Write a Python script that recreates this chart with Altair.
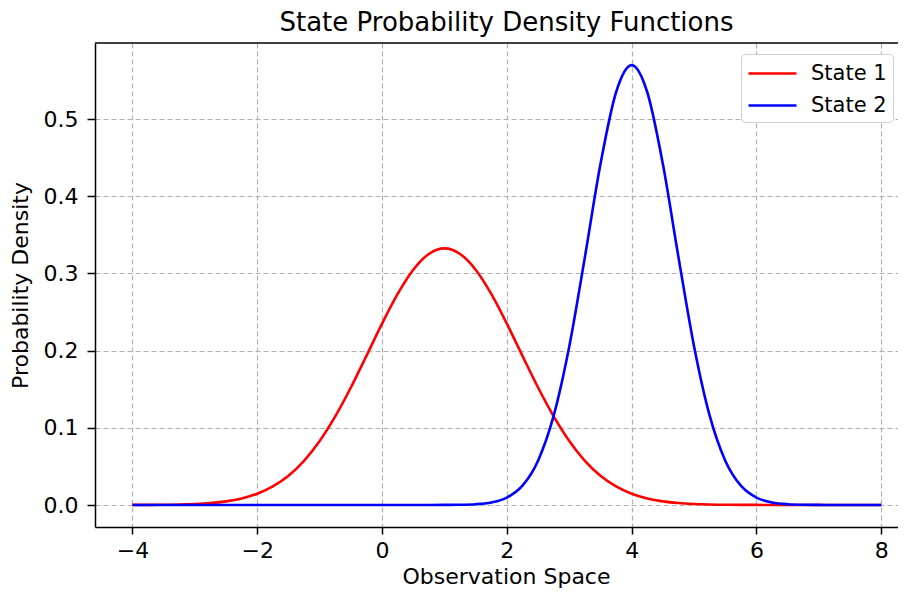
import altair as alt
import pandas as pd

# x positions (observation space) at which the curves were read
x_vals = [-4.0, -3.75, -3.5, -3.25, -3.0, -2.75, -2.5, -2.25, -2.0, -1.75, -1.5, -1.25,
          -1.0, -0.75, -0.5, -0.25, 0.0, 0.25, 0.5, 0.75, 1.0, 1.25, 1.5, 1.75,
          2.0, 2.25, 2.5, 2.75, 3.0, 3.25, 3.5, 3.75, 4.0, 4.25, 4.5, 4.75,
          5.0, 5.25, 5.5, 5.75, 6.0, 6.25, 6.5, 6.75, 7.0, 7.25, 7.5, 7.75, 8.0]

state1 = [0.0001, 0.0001, 0.0003, 0.0006, 0.0013, 0.0025, 0.0047, 0.0085, 0.0146, 0.0241,
          0.0380, 0.0573, 0.0829, 0.1148, 0.1522, 0.1932, 0.2349, 0.2734, 0.3048, 0.3252,
          0.3324, 0.3252, 0.3048, 0.2734, 0.2349, 0.1932, 0.1522, 0.1148, 0.0829, 0.0573,
          0.0380, 0.0241, 0.0146, 0.0085, 0.0047, 0.0025, 0.0013, 0.0006, 0.0003, 0.0001,
          0.0001, 0.0, 0.0, 0.0, 0.0, 0.0, 0.0, 0.0, 0.0]

state2 = [0.0, 0.0, 0.0, 0.0, 0.0, 0.0, 0.0, 0.0, 0.0, 0.0,
          0.0, 0.0, 0.0, 0.0, 0.0, 0.0, 0.0, 0.0, 0.0, 0.0,
          0.0001, 0.0003, 0.0010, 0.0033, 0.0096, 0.0250, 0.0574, 0.1157, 0.2054, 0.3210,
          0.4416, 0.5347, 0.5699, 0.5347, 0.4416, 0.3210, 0.2054, 0.1157, 0.0574, 0.0250,
          0.0096, 0.0033, 0.0010, 0.0003, 0.0001, 0.0, 0.0, 0.0, 0.0]

series_names = ["State 1", "State 2"]
series_colors = ["#ff0000", "#0000ff"]

x_ticks = [-4, -2, 0, 2, 4, 6, 8]
y_ticks = [0.0, 0.1, 0.2, 0.3, 0.4, 0.5]

rows = []
for xv, a, b in zip(x_vals, state1, state2):
    rows.append({"x": xv, "density": a, "state": series_names[0]})
    rows.append({"x": xv, "density": b, "state": series_names[1]})
df = pd.DataFrame(rows)

FONT = "DejaVu Sans"
FS = 22

lines = alt.Chart(df).mark_line(strokeWidth=2.6, interpolate="monotone", clip=True).encode(
    x=alt.X("x:Q",
            scale=alt.Scale(domain=[-4.6, 8.38], range=[0, 810], nice=False, zero=False),
            axis=alt.Axis(title="Observation Space", values=x_ticks, format="d",
                          grid=True, gridDash=[5, 3], gridColor="#b0b0b0", gridWidth=1.2,
                          domainColor="black", domainWidth=1.5,
                          tickColor="black", tickWidth=1.5, tickSize=7,
                          labelFontSize=FS, labelColor="black", labelPadding=6,
                          titleFontSize=FS, titleFontWeight="normal", titleColor="black",
                          titlePadding=5, titleX=411)),
    y=alt.Y("density:Q",
            scale=alt.Scale(domain=[-0.0285, 0.5985], nice=False, zero=False),
            axis=alt.Axis(title="Probability Density", values=y_ticks, format=".1f",
                          grid=True, gridDash=[5, 3], gridColor="#b0b0b0", gridWidth=1.2,
                          domainColor="black", domainWidth=1.5,
                          tickColor="black", tickWidth=1.5, tickSize=8,
                          labelFontSize=FS, labelColor="black", labelPadding=9,
                          titleFontSize=FS, titleFontWeight="normal", titleColor="black",
                          titlePadding=11)),
    color=alt.Color("state:N",
                    scale=alt.Scale(domain=series_names, range=series_colors),
                    legend=alt.Legend(title=None, orient="none", legendX=646, legendY=11,
                                      symbolType="M-1,0H3", symbolSize=576,
                                      symbolStrokeWidth=2.6,
                                      labelFontSize=21, labelFont=FONT, labelColor="black",
                                      labelOffset=37, rowPadding=8,
                                      padding=6, strokeColor="#d0d0d0",
                                      fillColor="white", cornerRadius=4)),
)

top_spine = alt.Chart(pd.DataFrame({"k": [0]})).mark_rule(color="black", strokeWidth=1.5).encode(
    x=alt.value(0), x2=alt.value(810), y=alt.value(0)
)

chart = alt.layer(lines, top_spine).properties(
    width=803, height=484,
    title=alt.Title("State Probability Density Functions", fontSize=26,
                    fontWeight="normal", font=FONT, color="black", offset=6, dx=10),
    autosize=alt.AutoSizeParams(type="none"),
    padding={"left": 87, "top": 35, "right": 0, "bottom": 64},
).configure(font=FONT).configure_view(stroke=None)

chart.save("out.html", embed_options={"renderer": "svg", "actions": False})
